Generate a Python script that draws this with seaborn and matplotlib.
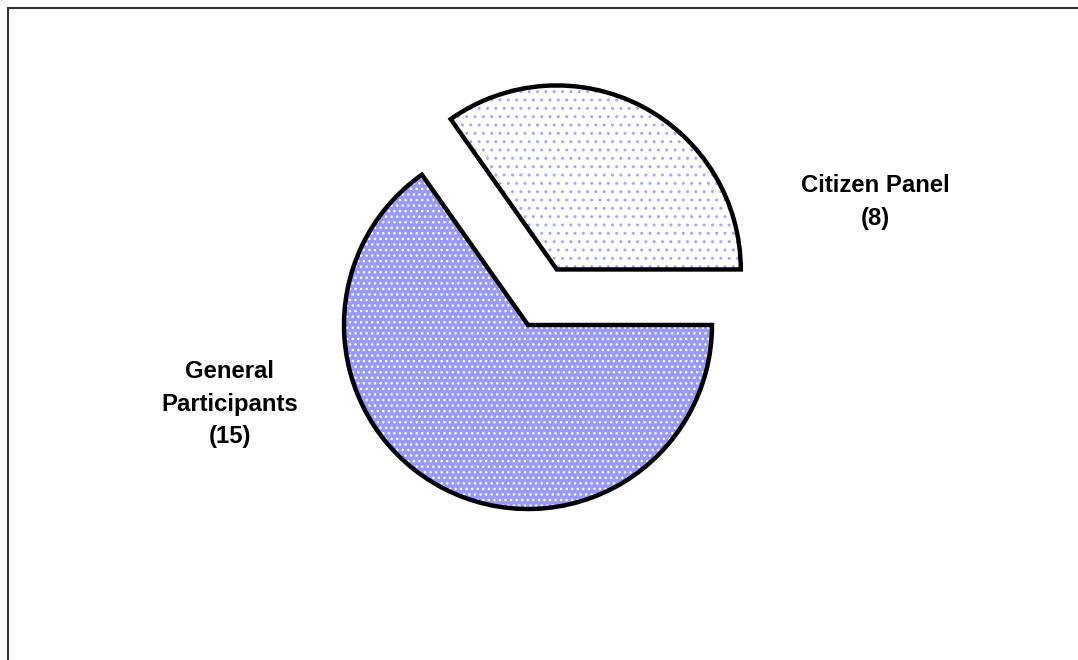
import matplotlib
matplotlib.use("Agg")
import matplotlib.pyplot as plt
import seaborn as sns
from matplotlib.patches import Rectangle

# Data
groups = ["Citizen Panel", "General Participants"]
group_text = ["Citizen Panel", "General\nParticipants"]
counts = [8, 15]

sns.set_style("white")
plt.rcParams['font.family'] = ['Liberation Sans', 'DejaVu Sans']

fill_colors = ["#FFFFFF", "#9999FF"]
dot_colors = ["#A8A8FF", "#FFFFFF"]
hatches = ["..", "..."]

fig = plt.figure(figsize=(10.78, 6.6), dpi=100)
ax = fig.add_axes([0, 0, 1, 1])

center = (528, 335)
radius = 184
# pie's explode offset is in data units, so scale by radius
explode = [0.34 * radius, 0]

# fill + dotted pattern
wedges, _ = ax.pie(counts, explode=explode, startangle=0, counterclock=True,
                   center=center, radius=radius, colors=fill_colors,
                   wedgeprops=dict(linewidth=0), frame=True)
for w, dc, h in zip(wedges, dot_colors, hatches):
    w.set_edgecolor(dc)
    w.set_hatch(h)
    w.set_linewidth(0)

# black outline
ax.pie(counts, explode=explode, startangle=0, counterclock=True,
       center=center, radius=radius, colors=["none", "none"],
       wedgeprops=dict(linewidth=3.2, edgecolor="black", joinstyle="miter"),
       frame=True)
ax.set_xlim(0, 1078)
ax.set_ylim(0, 660)
ax.set_aspect('equal')
ax.axis('off')

# labels
ax.text(875, 458, f"{group_text[0]}\n({counts[0]})", ha="center", va="center",
        fontsize=17.2, fontweight="bold", linespacing=1.55, color="black")
ax.text(230, 256, f"{group_text[1]}\n({counts[1]})", ha="center", va="center",
        fontsize=17.2, fontweight="bold", linespacing=1.55, color="black")

# outer frame (cut off at right and bottom)
ax.add_patch(Rectangle((8, -20), 1100, 672, fill=False, edgecolor="#333333",
                       linewidth=1.5, clip_on=False))

fig.savefig("out.png", dpi=100, facecolor="white")
